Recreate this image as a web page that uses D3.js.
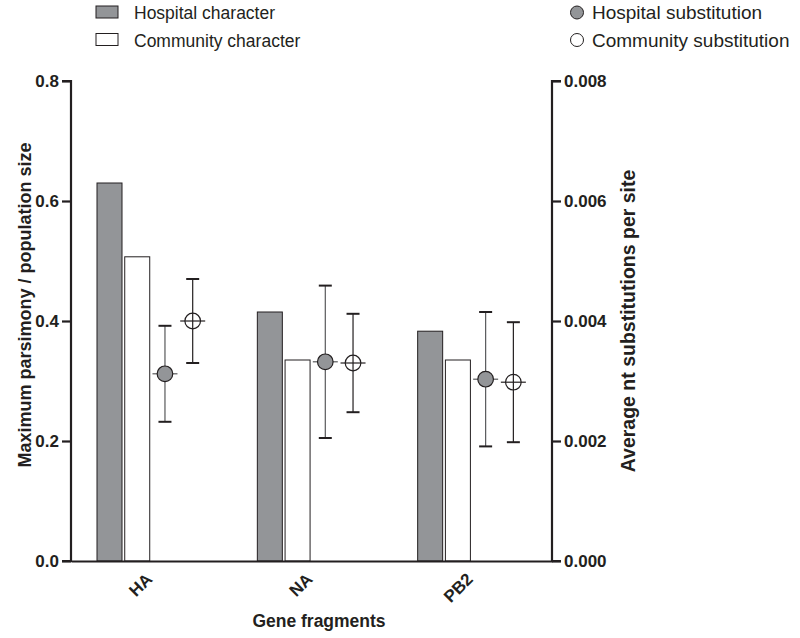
<!DOCTYPE html>
<html>
<head>
<meta charset="utf-8">
<script src="https://cdn.jsdelivr.net/npm/d3@7"></script>
<style>
  body { margin: 0; background: #fff; }
  svg { display: block; font-family: "Liberation Sans", Arial, sans-serif; }
</style>
</head>
<body>
<svg id="chart" width="800" height="638"></svg>
<script>
// Data
const genes = ["HA", "NA", "PB2"];
const hospitalChar = [0.63, 0.415, 0.383];
const communityChar = [0.507, 0.335, 0.335];
const hospitalSub = [0.00312, 0.00332, 0.00303];
const hospitalSubErr = [0.0008, 0.00127, 0.00112];
const communitySub = [0.0040, 0.0033, 0.00298];
const communitySubErr = [0.0007, 0.00082, 0.0010];
const leftTicks = [0, 0.2, 0.4, 0.6, 0.8];
const rightTicks = [0, 0.002, 0.004, 0.006, 0.008];
const series = ["hospChar", "commChar", "hospSub", "commSub"];

const ink = "#231f20";
const grey = "#939598";

const svg = d3.select("#chart");
const plotLeft = 71, plotRight = 552, plotTop = 81, plotBottom = 561;

const x = d3.scaleBand().domain(genes).range([plotLeft, plotRight]);
// position of each series inside a gene group
const xs = d3.scalePoint().domain(series).range([38.5, 121.7]);
const barW = 25;

const yL = d3.scaleLinear().domain([0, 0.8]).range([plotBottom, plotTop]);
const yR = d3.scaleLinear().domain([0, 0.008]).range([plotBottom, plotTop]);

// Bars
const barData = genes.map((g, i) => [
  {g, s: "hospChar", v: hospitalChar[i], fill: grey},
  {g, s: "commChar", v: communityChar[i], fill: "#fff"}
]).flat();

svg.append("g").selectAll("rect")
  .data(barData)
  .enter()
  .append("rect")
  .attr("x", d => x(d.g) + xs(d.s) - barW / 2)
  .attr("y", d => yL(d.v))
  .attr("width", barW)
  .attr("height", d => yL(0) - yL(d.v))
  .attr("fill", d => d.fill)
  .attr("stroke", ink)
  .attr("stroke-width", 1);

// Substitution points with error bars
const pointData = genes.map((g, i) => [
  {g, s: "hospSub", v: hospitalSub[i], e: hospitalSubErr[i], fill: grey, line: "#58595b"},
  {g, s: "commSub", v: communitySub[i], e: communitySubErr[i], fill: "none", line: ink}
]).flat();

const pts = svg.append("g").selectAll("g")
  .data(pointData)
  .enter()
  .append("g")
  .attr("transform", d => `translate(${x(d.g) + xs(d.s)},0)`);

pts.append("line")
  .attr("y1", d => yR(d.v + d.e))
  .attr("y2", d => yR(d.v - d.e))
  .attr("stroke", d => d.line)
  .attr("stroke-width", 1.2);

pts.selectAll("line.cap")
  .data(d => [d.v + d.e, d.v - d.e].map(v => ({v, line: d.line})))
  .enter()
  .append("line")
  .attr("class", "cap")
  .attr("x1", -6.5).attr("x2", 6.5)
  .attr("y1", d => yR(d.v)).attr("y2", d => yR(d.v))
  .attr("stroke", ink)
  .attr("stroke-width", 2);

pts.append("line")
  .attr("x1", -12.5).attr("x2", 12.5)
  .attr("y1", d => yR(d.v)).attr("y2", d => yR(d.v))
  .attr("stroke", d => d.line)
  .attr("stroke-width", 1.2);

pts.append("circle")
  .attr("cy", d => yR(d.v))
  .attr("r", 7.8)
  .attr("fill", d => d.fill)
  .attr("stroke", ink)
  .attr("stroke-width", 1.2);

// Axes
const axisL = svg.append("g")
  .attr("transform", `translate(${plotLeft},0)`)
  .call(d3.axisLeft(yL).tickValues(leftTicks).tickFormat(d3.format(".1f")).tickSize(9).tickPadding(3));
const axisR = svg.append("g")
  .attr("transform", `translate(${plotRight},0)`)
  .call(d3.axisRight(yR).tickValues(rightTicks).tickFormat(d3.format(".3f")).tickSize(9).tickPadding(3));
const axisB = svg.append("g")
  .attr("transform", `translate(0,${plotBottom})`)
  .call(d3.axisBottom(x).tickSize(0).tickPadding(0));

[axisL, axisR, axisB].forEach(a => {
  a.select(".domain").attr("stroke", ink).attr("stroke-width", 2.2);
  a.selectAll(".tick line").attr("stroke", ink).attr("stroke-width", 2.2);
  a.selectAll("text")
    .attr("fill", ink)
    .style("font-size", "17px")
    .style("font-weight", "bold");
});
axisL.select(".domain").attr("d", `M-9,${plotTop}H0V${plotBottom}H-9`);
axisR.select(".domain").attr("d", `M9,${plotTop}H0V${plotBottom}H9`);

axisB.selectAll(".tick text")
  .attr("text-anchor", "end")
  .attr("transform", "translate(-2,15) rotate(-45)")
  .attr("dy", "0.35em")
  .attr("y", 0);

// Axis titles
svg.append("text")
  .attr("transform", `translate(31,305) rotate(-90)`)
  .attr("text-anchor", "middle")
  .attr("fill", ink)
  .style("font-size", "18px")
  .style("font-weight", "bold")
  .text("Maximum parsimony / population size");

svg.append("text")
  .attr("transform", `translate(635,321) rotate(-90)`)
  .attr("text-anchor", "middle")
  .attr("fill", ink)
  .style("font-size", "19.5px")
  .style("font-weight", "bold")
  .text("Average nt substitutions per site");

svg.append("text")
  .attr("x", 319)
  .attr("y", 627)
  .attr("text-anchor", "middle")
  .attr("fill", ink)
  .style("font-size", "17.5px")
  .style("font-weight", "bold")
  .text("Gene fragments");

// Legend
const legendBars = [
  {label: "Hospital character", fill: grey},
  {label: "Community character", fill: "#fff"}
];
const legendPts = [
  {label: "Hospital substitution", fill: grey},
  {label: "Community substitution", fill: "#fff"}
];

const lb = svg.append("g").selectAll("g")
  .data(legendBars)
  .enter()
  .append("g")
  .attr("transform", (d, i) => `translate(96,${6 + i * 27.5})`);
lb.append("rect")
  .attr("width", 22).attr("height", 12)
  .attr("fill", d => d.fill)
  .attr("stroke", ink).attr("stroke-width", 1);
lb.append("text")
  .attr("x", 38).attr("y", 13)
  .attr("fill", ink)
  .style("font-size", "17.5px")
  .text(d => d.label);

const lp = svg.append("g").selectAll("g")
  .data(legendPts)
  .enter()
  .append("g")
  .attr("transform", (d, i) => `translate(577,${12.5 + i * 27.5})`);
lp.append("circle")
  .attr("r", 6.5)
  .attr("fill", d => d.fill)
  .attr("stroke", ink).attr("stroke-width", 1);
lp.append("text")
  .attr("x", 15).attr("y", 6.8)
  .attr("fill", ink)
  .style("font-size", "19px")
  .text(d => d.label);
</script>
</body>
</html>
